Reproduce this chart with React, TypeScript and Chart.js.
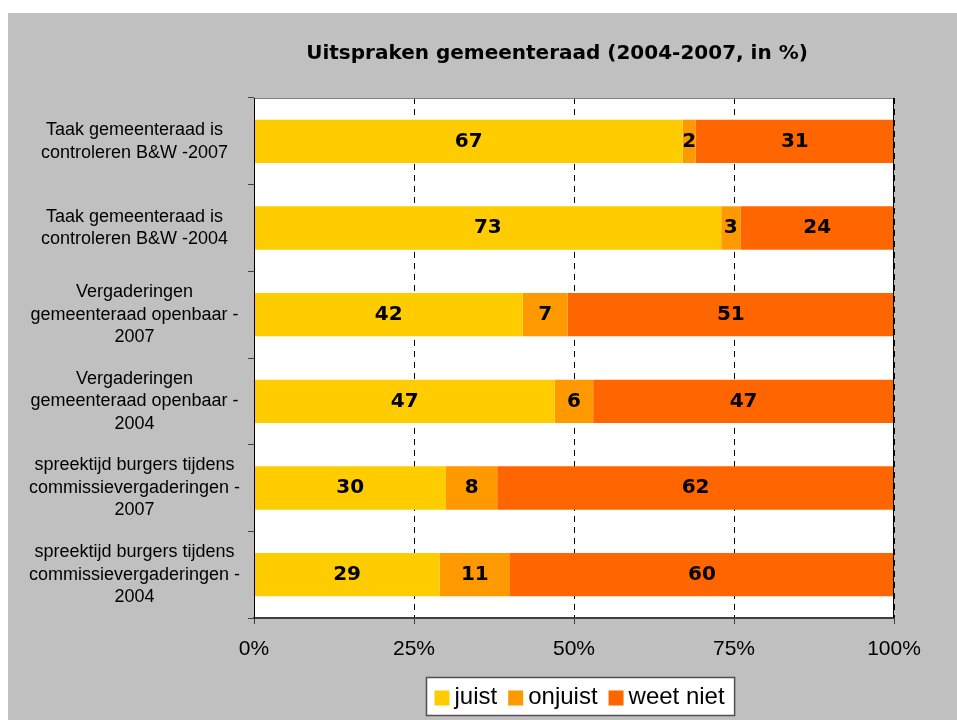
import React, { useEffect, useRef } from 'react';
import { Chart, registerables } from 'chart.js';

Chart.register(...registerables);

const categories: string[][] = [
  ['Taak gemeenteraad is', 'controleren B&W -2007'],
  ['Taak gemeenteraad is', 'controleren B&W -2004'],
  ['Vergaderingen', 'gemeenteraad openbaar -', '2007'],
  ['Vergaderingen', 'gemeenteraad openbaar -', '2004'],
  ['spreektijd burgers tijdens', 'commissievergaderingen -', '2007'],
  ['spreektijd burgers tijdens', 'commissievergaderingen -', '2004'],
];
const juist = [67, 73, 42, 47, 30, 29];
const onjuist = [2, 3, 7, 6, 8, 11];
const weetNiet = [31, 24, 51, 47, 62, 60];
const xTicks = [0, 25, 50, 75, 100];
const seriesNames = ['juist', 'onjuist', 'weet niet'];
const seriesColors = ['#FFCC00', '#FF9900', '#FF6600'];
const titleText = 'Uitspraken gemeenteraad (2004-2007, in %)';

const decorPlugin = {
  id: 'decor',
  beforeDraw(chart: any) {
    const { ctx, chartArea: a } = chart;
    ctx.save();
    ctx.fillStyle = '#FFFFFF';
    ctx.fillRect(a.left, a.top, a.right - a.left, a.bottom - a.top);
    ctx.restore();
  },
  afterDatasetsDraw(chart: any) {
    const { ctx, chartArea: a } = chart;
    ctx.save();
    ctx.font = 'bold 20px "DejaVu Sans"';
    ctx.fillStyle = '#000000';
    ctx.textAlign = 'center';
    ctx.textBaseline = 'middle';
    chart.data.datasets.forEach((ds: any, di: number) => {
      const meta = chart.getDatasetMeta(di);
      meta.data.forEach((bar: any, i: number) => {
        const p = bar.getProps(['x', 'y', 'base'], true);
        ctx.fillText(String(ds.data[i]), (p.x + p.base) / 2, p.y);
      });
    });
    ctx.lineWidth = 1;
    ctx.strokeStyle = '#808080';
    ctx.beginPath();
    ctx.moveTo(a.left, a.top + 0.5);
    ctx.lineTo(a.right, a.top + 0.5);
    ctx.stroke();
    ctx.strokeStyle = '#000000';
    ctx.beginPath();
    ctx.moveTo(a.right - 0.5, a.top);
    ctx.lineTo(a.right - 0.5, a.bottom);
    ctx.stroke();
    ctx.beginPath();
    ctx.moveTo(a.left + 0.5, a.top);
    ctx.lineTo(a.left + 0.5, a.bottom);
    ctx.stroke();
    ctx.restore();
  },
  afterDraw(chart: any) {
    const { ctx } = chart;
    ctx.save();
    // title
    ctx.font = 'bold 20px "DejaVu Sans"';
    ctx.fillStyle = '#000000';
    ctx.textAlign = 'center';
    ctx.textBaseline = 'middle';
    ctx.fillText(titleText, 549, 41);
    // legend
    ctx.font = '24px "Liberation Sans"';
    const boxW = 15, boxH = 15, gapBT = 5, gapItems = 11, padL = 8, padR = 10;
    const items = chart.data.datasets.map((ds: any) => ({ label: ds.label, color: ds.backgroundColor }));
    const widths = items.map((it: any) => boxW + gapBT + ctx.measureText(it.label).width);
    const total = widths.reduce((s: number, w: number) => s + w, 0) + gapItems * (items.length - 1);
    const w = total + padL + padR;
    const h = 38;
    const left = Math.round(572 - w / 2) + 0.5;
    const top = 664.5;
    ctx.fillStyle = '#FFFFFF';
    ctx.fillRect(left, top, w, h);
    ctx.strokeStyle = '#505050';
    ctx.lineWidth = 1.5;
    ctx.strokeRect(left, top, w, h);
    let x = left + padL;
    items.forEach((it: any, i: number) => {
      ctx.fillStyle = it.color;
      ctx.fillRect(x, top + 13, boxW, boxH);
      ctx.fillStyle = '#000000';
      ctx.textAlign = 'left';
      ctx.textBaseline = 'middle';
      ctx.fillText(it.label, x + boxW + gapBT, top + h / 2 + 1);
      x += widths[i] + gapItems;
    });
    ctx.restore();
  },
};

export default function App() {
  const ref = useRef<HTMLCanvasElement | null>(null);
  useEffect(() => {
    if (!ref.current) return;
    const chart = new Chart(ref.current, {
      type: 'bar',
      data: {
        labels: categories,
        datasets: [
          { label: seriesNames[0], data: juist, backgroundColor: seriesColors[0] },
          { label: seriesNames[1], data: onjuist, backgroundColor: seriesColors[1] },
          { label: seriesNames[2], data: weetNiet, backgroundColor: seriesColors[2] },
        ],
      },
      options: {
        indexAxis: 'y',
        animation: false,
        responsive: true,
        maintainAspectRatio: false,
        layout: { padding: { top: 85, right: 63, bottom: 52, left: 0 } },
        datasets: { bar: { categoryPercentage: 0.5, barPercentage: 1, borderWidth: 0 } },
        plugins: {
          legend: { display: false },
          title: { display: false },
          tooltip: { enabled: false },
        },
        scales: {
          x: {
            stacked: true,
            min: 0,
            max: 100,
            afterBuildTicks: (scale: any) => {
              scale.ticks = xTicks.map((v) => ({ value: v }));
            },
            afterFit: (scale: any) => {
              scale.height = 50;
            },
            ticks: {
              callback: (v: any) => v + '%',
              color: '#000000',
              font: { family: '"Liberation Sans"', size: 21 },
              padding: 13,
              maxRotation: 0,
            },
            grid: {
              color: '#000000',
              lineWidth: 1,
              drawTicks: true,
              tickLength: 6,
              tickColor: '#404040',
              tickWidth: 1,
            },
            border: { display: true, color: '#404040', width: 2, dash: [6, 5] },
          },
          y: {
            stacked: true,
            afterFit: (scale: any) => {
              scale.width = 246;
            },
            ticks: {
              crossAlign: 'center',
              color: '#000000',
              font: { family: '"Liberation Sans"', size: 18, lineHeight: 1.25 },
              padding: 8,
            },
            grid: {
              display: true,
              drawOnChartArea: false,
              drawTicks: true,
              tickLength: 6,
              color: '#404040',
              tickColor: '#404040',
            },
            border: { display: true, color: '#000000', width: 1 },
          },
        },
      },
      plugins: [decorPlugin],
    } as any);
    return () => chart.destroy();
  }, []);
  return (
    <div
      style={{
        position: 'fixed',
        left: 8,
        top: 13,
        width: 949,
        height: 707,
        background: '#C0C0C0',
      }}
    >
      <canvas ref={ref} />
    </div>
  );
}
